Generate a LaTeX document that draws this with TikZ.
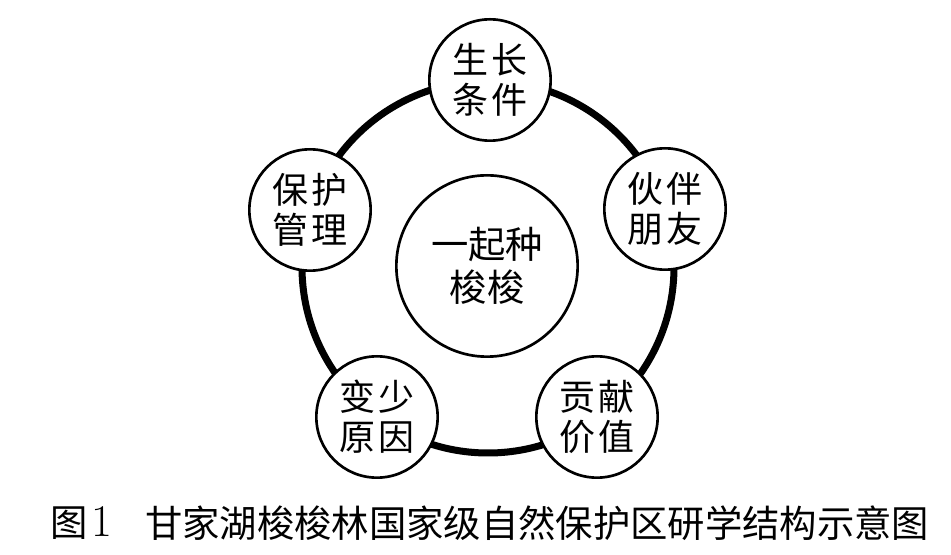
\documentclass[tikz,border=0pt]{standalone}
\usepackage{fontspec}
\newfontfamily\cjk{Noto Sans CJK SC}
\begin{document}
\begin{tikzpicture}[x=0.75pt,y=-0.75pt,
  smallc/.style={circle,draw,line width=2pt,fill=white,minimum size=91pt,inner sep=0pt,align=center,
    font=\cjk\fontsize{27}{30}\selectfont},
  bigc/.style={circle,draw,line width=2pt,fill=white,minimum size=136pt,inner sep=0pt,align=center,
    font=\cjk\fontsize{28}{32}\selectfont},
  ringline/.style={line width=5.25pt},
  captext/.style={anchor=west,inner sep=0pt,font=\fontsize{28}{30}\selectfont}]
\useasboundingbox[fill=white] (0,0) rectangle (951,555);
\coordinate (o) at (488,267);
\draw[ringline] (o) circle[radius=139.5pt];
\node[bigc] (c) at (487,266) {一起种\\梭梭};
\node[smallc] (n1) at (490,80) {生\kern3pt 长\\条\kern3pt 件};
\node[smallc] (n2) at (665,209) {伙\kern3pt 伴\\朋\kern3pt 友};
\node[smallc] (n3) at (597,417) {贡\kern3pt 献\\价\kern3pt 值};
\node[smallc] (n4) at (377,417) {变\kern3pt 少\\原\kern3pt 因};
\node[smallc] (n5) at (310,210) {保\kern3pt 护\\管\kern3pt 理};
\node[captext] (cap1) at (50,523) {{\cjk 图}\kern3pt{\fontsize{34}{34}\selectfont 1}};
\node[captext] (cap2) at (145,523) {\cjk 甘家湖梭梭林国家级自然保护区研学结构示意图};
\end{tikzpicture}
\end{document}
